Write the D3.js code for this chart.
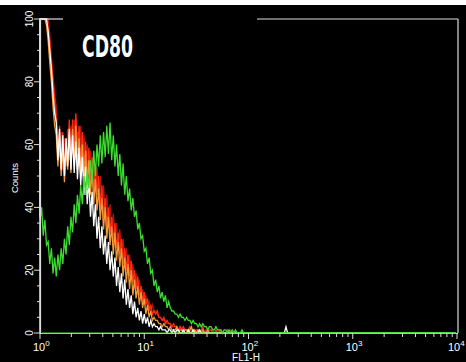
<!DOCTYPE html>
<html><head><meta charset="utf-8">
<script src="https://cdn.jsdelivr.net/npm/d3@7"></script>
<style>html,body{margin:0;padding:0;background:#000;}svg{display:block;}</style>
</head><body>
<script>
// FL1-H histogram counts per channel (256 channels over 4 decades; channels not listed are 0)
const channelsPerDecade = 64;
const totalChannels = 256;
const yTicks = [0, 20, 40, 60, 80, 100];
const xDecades = [0, 1, 2, 3, 4];
const title = "CD80";
const xLabel = "FL1-H";
const yLabel = "Counts";

const darkred = [100,100,100,100,100,100,95,88,82,76, 72,60,56,64,52,62,53,65,55,66,
  57,68,55,64,53,66,56,63,52,60, 51,58,48,55,46,53,43,50,40,47, 38,44,35,41,32,38,30,35,27,33,
  25,30,22,27,20,25,18,22,16,19, 14,17,12,14,10,12,9,10,7,9, 7,7,6,5,5,4,4,4,3,3,
  3,2,2,2,2,1,2,1,1,1, 1,1,1,0,1,1,0,1,0,1, 1,0,0,1,0,0,1,0,0,0, 1,0,0,0,0,0,0,1,0,0];
const red = [100,100,100,100,100,97,92,85,80,74, 68,56,66,52,64,50,62,55,68,54,
  68,56,70,58,66,54,64,52,61,50, 59,48,56,45,53,44,50,40,47,37, 43,34,40,32,37,29,35,27,32,25,
  30,22,27,20,25,18,23,16,20,14, 18,12,15,10,13,9,11,7,9,6, 7,6,7,5,5,4,5,3,4,3,
  3,2,3,2,2,1,2,1,2,1, 1,1,2,1,1,0,1,1,0,1, 2,0,1,0,1,1,0,0,1,0, 0,1,0,0,0,1,0,0,0,0];
const orange = [100,100,100,100,98,93,86,80,72,66, 63,53,62,50,60,48,59,52,64,51,
  65,53,66,52,62,50,60,48,58,46, 55,44,52,41,49,39,46,36,43,33, 40,30,37,28,34,25,32,23,29,21,
  27,18,24,16,22,14,20,12,17,11, 15,9,13,8,11,6,9,5,7,4, 5,4,4,3,3,2,3,2,2,1,
  2,1,1,1,2,0,1,1,0,1, 1,0,1,2,0,1,0,1,0,0, 1,0,0,1,0,0,0,0,0,0];
const white = [100,100,100,100,100,96,90,84,76,70, 67,55,65,52,63,50,62,53,65,52,
  63,51,61,49,59,47,56,44,53,41, 49,37,45,34,41,30,37,27,34,25, 31,22,29,20,26,18,24,15,21,13,
  19,11,17,9,14,8,12,6,10,5, 8,4,7,3,6,3,5,2,4,2, 3,2,2,1,2,1,1,1,0,1,
  1,0,1,0,1,1,0,0,1,0, 0,1,0,0,1,0,0,0,1,0, 0,0,0,0,0,0,0,0,0,0,
  0,0,0,0,0,0,0,0,0,0, 0,0,0,0,0,0,0,0,0,0, 0,0,0,0,0,0,0,0,0,0, 0,0,0,0,0,0,0,0,0,0,
  0,2,0];
const green = [36,40,31,36,28,29,22,27,19,24, 18,25,20,27,22,30,25,34,28,37,
  32,41,35,44,38,47,41,50,44,52, 46,55,48,58,50,60,53,63,54,64, 56,66,57,67,55,63,53,60,50,57,
  47,54,44,50,42,46,39,43,37,39, 33,35,30,31,26,27,22,24,19,20, 15,17,13,15,11,13,10,12,8,10,
  8,7,7,6,6,5,6,5,5,4, 5,4,4,3,4,3,3,2,3,2, 3,2,2,1,2,2,1,1,2,1, 1,1,0,1,1,0,1,0,1,0,
  1,0,0,0,1,0,0,0];

const seriesList = [
  {values: darkred, color: "#b3150c"},
  {values: red, color: "#ff2a10"},
  {values: orange, color: "#f39a3a"},
  {values: white, color: "#ffffff"},
  {values: green, color: "#3cdc30"}
];

const W = 466, H = 362;
const svg = d3.select("body").append("svg").attr("width", W).attr("height", H)
  .style("font-family", "'Liberation Sans', Arial, sans-serif");
svg.append("rect").attr("width", W).attr("height", H).attr("fill", "#000");
svg.append("rect").attr("width", W).attr("height", 5).attr("fill", "#fff");

const x = d3.scaleLog().domain([1, 1e4]).range([40, 457]);
const y = d3.scaleLinear().domain([0, 100]).range([333, 19]).clamp(true);
const chX = c => x(Math.pow(10, c / channelsPerDecade));

const axisColor = "#dcdcdc";

// series
const line = d3.line().x(d => chX(d.c)).y(d => y(d.v));
seriesList.forEach(s => {
  const pts = [{c: 0, v: 0}];
  for (let c = 0; c < totalChannels; c++) pts.push({c, v: c < s.values.length ? s.values[c] : 0});
  svg.append("path").attr("d", line(pts)).attr("fill", "none")
    .attr("stroke", s.color).attr("stroke-width", 1.3).attr("stroke-linejoin", "miter");
});

// frame
const g = svg.append("g").attr("stroke", axisColor).attr("stroke-width", 1.2).attr("fill", "none");
g.append("line").attr("x1", 40.5).attr("x2", 40.5).attr("y1", y(100)).attr("y2", y(0) + 0.5);
g.append("line").attr("x1", 458).attr("x2", 458).attr("y1", y(100)).attr("y2", y(0));
g.append("line").attr("x1", 40).attr("x2", 63).attr("y1", y(100)).attr("y2", y(100));
g.append("line").attr("x1", 257).attr("x2", 458).attr("y1", y(100)).attr("y2", y(100));
g.append("line").attr("x1", 40).attr("x2", 458).attr("y1", y(0) + 0.5).attr("y2", y(0) + 0.5);
// green series baseline over axis
svg.append("line").attr("x1", 42).attr("x2", 456).attr("y1", y(0)).attr("y2", y(0))
  .attr("stroke", "#3cdc30").attr("stroke-width", 1);

// y ticks
const yMinor = d3.range(0, 101, 5);
yMinor.forEach(v => {
  const major = v % 20 === 0;
  svg.append("line").attr("x1", 40).attr("x2", major ? 34 : 37)
    .attr("y1", y(v)).attr("y2", y(v)).attr("stroke", axisColor).attr("stroke-width", 1);
});
yTicks.forEach(v => {
  svg.append("text").attr("transform", `translate(33,${y(v)}) rotate(-90)`)
    .attr("text-anchor", "middle").attr("fill", "#fff").attr("font-size", 10).text(v);
});
svg.append("text").attr("transform", `translate(18,178) rotate(-90)`)
  .attr("text-anchor", "middle").attr("fill", "#fff").attr("font-size", 9.5).text(yLabel);

// x ticks
for (let d = 0; d < 4; d++) {
  for (let k = 1; k <= 9; k++) {
    const v = k * Math.pow(10, d);
    svg.append("line").attr("x1", x(v)).attr("x2", x(v)).attr("y1", y(0))
      .attr("y2", y(0) + (k === 1 ? 6 : 4)).attr("stroke", axisColor).attr("stroke-width", 1);
  }
}
svg.append("line").attr("x1", x(1e4)).attr("x2", x(1e4)).attr("y1", y(0)).attr("y2", y(0) + 6)
  .attr("stroke", axisColor);
xDecades.forEach(d => {
  const t = svg.append("text").attr("x", x(Math.pow(10, d)) - (d === 4 ? 9 : 7)).attr("y", 351)
    .attr("fill", "#fff").attr("font-size", 11);
  t.append("tspan").text("10");
  t.append("tspan").attr("font-size", 8).attr("dy", -5).text(d);
});
svg.append("text").attr("x", 246).attr("y", 361).attr("text-anchor", "middle")
  .attr("fill", "#fff").attr("font-size", 10).text(xLabel);

svg.append("text").attr("x", 82).attr("y", 57).attr("fill", "#fff")
  .attr("font-family", "'Liberation Sans Narrow', 'DejaVu Sans Condensed', sans-serif")
  .attr("font-weight", "bold")
  .attr("font-size", 30).attr("textLength", 51).attr("lengthAdjust", "spacingAndGlyphs")
  .text(title);
</script>
</body></html>
